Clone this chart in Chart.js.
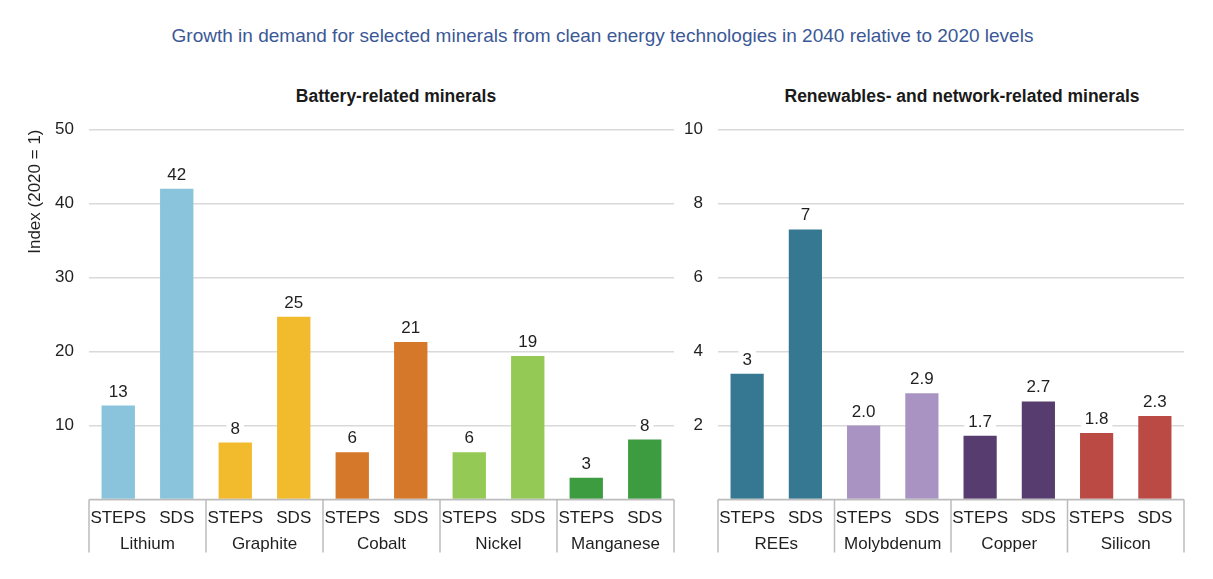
<!DOCTYPE html>
<html>
<head>
<meta charset="utf-8">
<title>Growth in demand for selected minerals</title>
<script src="https://cdn.jsdelivr.net/npm/chart.js@4.4.1/dist/chart.umd.min.js"></script>
<style>
  body { margin: 0; background: #fff; font-family: "Liberation Sans", Arial, sans-serif; }
  #wrap { position: relative; width: 1213px; height: 579px; overflow: hidden; }
  .txt { position: absolute; text-align: center; white-space: nowrap; }
  #mainTitle { left: 0; width: 1205px; top: 25px; font-size: 19px; line-height: 22px; color: #3b5896; }
  .sub { top: 85px; width: 400px; font-size: 17.5px; line-height: 22px; font-weight: bold; color: #1a1a1a; }
  #subLeft { left: 196px; }
  #subRight { left: 762px; }
  canvas { position: absolute; top: 0; }
  #batteryChart { left: 0; }
  #renewChart { left: 676px; }
</style>
</head>
<body>
<div id="wrap">
  <div id="mainTitle" class="txt">Growth in demand for selected minerals from clean energy technologies in 2040 relative to 2020 levels</div>
  <div id="subLeft" class="txt sub">Battery-related minerals</div>
  <div id="subRight" class="txt sub">Renewables- and network-related minerals</div>
  <canvas id="batteryChart" width="680" height="579"></canvas>
  <canvas id="renewChart" width="537" height="579"></canvas>
</div>

<script>
// scenarios shown under every bar
const scenarios = ["STEPS", "SDS"];

// battery-related minerals (index 2020 = 1)
const batteryMinerals = ["Lithium", "Graphite", "Cobalt", "Nickel", "Manganese"];
const batterySteps = [12.7, 7.7, 6.4, 6.4, 2.95];
const batterySds = [42.0, 24.7, 21.3, 19.4, 8.1];
const batteryStepsLabels = ["13", "8", "6", "6", "3"];
const batterySdsLabels = ["42", "25", "21", "19", "8"];
const batteryColors = ["#89c3dc", "#f2bb2d", "#d57829", "#93c954", "#3e9c40"];
const batteryTicks = [10, 20, 30, 40, 50];

// renewables- and network-related minerals
const renewMinerals = ["REEs", "Molybdenum", "Copper", "Silicon"];
const renewSteps = [3.4, 2.0, 1.72, 1.8];
const renewSds = [7.3, 2.87, 2.65, 2.26];
const renewStepsLabels = ["3", "2.0", "1.7", "1.8"];
const renewSdsLabels = ["7", "2.9", "2.7", "2.3"];
const renewColors = ["#367891", "#a993c2", "#573d6f", "#bb4a45"];
const renewTicks = [2, 4, 6, 8, 10];

const fontFamily = "'Liberation Sans', Arial, sans-serif";
const textColor = "#1f1f1f";
const lineColor = "#bcbcbc";

// interleave STEPS / SDS so every bar gets its own slot
function interleave(a, b) {
  let out = [];
  for (let i = 0; i < a.length; i++) {
    out.push(a[i]);
    out.push(b[i]);
  }
  return out;
}

function doubled(colors) {
  return interleave(colors, colors);
}

// value labels on top of the bars, with a white box so grid lines break
const valueLabels = {
  id: "valueLabels",
  afterDatasetsDraw(chart) {
    const ctx = chart.ctx;
    const texts = chart.options.plugins.valueLabels.texts;
    const meta = chart.getDatasetMeta(0);
    ctx.save();
    ctx.font = "17px " + fontFamily;
    ctx.textAlign = "center";
    ctx.textBaseline = "alphabetic";
    meta.data.forEach((bar, i) => {
      const y = bar.y - 9;
      const w = ctx.measureText(texts[i]).width + 8;
      ctx.fillStyle = "#ffffff";
      ctx.fillRect(bar.x - w / 2, y - 15, w, 19);
      ctx.fillStyle = textColor;
      ctx.fillText(texts[i], bar.x, y);
    });
    ctx.restore();
  },
};

// base line and the vertical group separators under the x axis
const groupSeparators = {
  id: "groupSeparators",
  afterDraw(chart) {
    const ctx = chart.ctx;
    const area = chart.chartArea;
    const x = chart.scales.x;
    const groups = chart.data.labels.length / 2;
    let cuts = [area.left];
    for (let i = 1; i < groups; i++) {
      cuts.push((x.getPixelForValue(2 * i - 1) + x.getPixelForValue(2 * i)) / 2);
    }
    cuts.push(area.right);
    ctx.save();
    ctx.strokeStyle = lineColor;
    ctx.lineWidth = 1.5;
    ctx.beginPath();
    ctx.moveTo(area.left, area.bottom);
    ctx.lineTo(area.right, area.bottom);
    cuts.forEach((c) => {
      ctx.moveTo(c, area.bottom);
      ctx.lineTo(c, area.bottom + 53);
    });
    ctx.stroke();
    ctx.restore();
  },
};

function makeChart(canvasId, minerals, steps, sds, stepsLabels, sdsLabels, colors, ticks, opts) {
  const labels = [];
  minerals.forEach(() => labels.push(scenarios[0], scenarios[1]));
  const tickFont = { family: fontFamily, size: 17 };

  return new Chart(document.getElementById(canvasId), {
    type: "bar",
    data: {
      labels: labels,
      datasets: [
        {
          data: interleave(steps, sds),
          backgroundColor: doubled(colors),
          borderWidth: 0,
          barPercentage: 0.57,
          categoryPercentage: 1,
        },
      ],
    },
    options: {
      responsive: false,
      animation: false,
      layout: {
        padding: { top: 129.5, right: opts.padRight, bottom: 26.5, left: 0 },
      },
      plugins: {
        legend: { display: false },
        tooltip: { enabled: false },
        valueLabels: { texts: interleave(stepsLabels, sdsLabels) },
      },
      scales: {
        x: {
          weight: 0,
          grid: { display: false },
          border: { display: false },
          ticks: { font: tickFont, color: textColor, padding: 1, maxRotation: 0, autoSkip: false },
          afterFit(scale) { scale.height = 26; },
        },
        x2: {
          type: "category",
          labels: minerals,
          position: "bottom",
          weight: 1,
          offset: true,
          grid: { display: false },
          border: { display: false },
          ticks: { font: tickFont, color: textColor, padding: 1, maxRotation: 0, autoSkip: false },
          afterFit(scale) { scale.height = 27; },
        },
        y: {
          min: 0,
          max: ticks[ticks.length - 1],
          afterBuildTicks(scale) {
            scale.ticks = [0].concat(ticks).map((v) => ({ value: v }));
          },
          grid: { color: "#d9d9d9", lineWidth: 1.5, drawTicks: false },
          border: { display: false },
          ticks: {
            font: tickFont,
            color: textColor,
            padding: 15,
            callback: (v) => (v === 0 ? "" : v),
          },
          title: opts.yTitle
            ? {
                display: true,
                text: opts.yTitle,
                align: "end",
                color: textColor,
                font: { family: fontFamily, size: 17 },
                padding: { top: 25, bottom: 0 },
              }
            : { display: false },
          afterFit(scale) { scale.width = opts.yWidth; },
        },
      },
    },
    plugins: [valueLabels, groupSeparators],
  });
}

makeChart("batteryChart", batteryMinerals, batterySteps, batterySds,
  batteryStepsLabels, batterySdsLabels, batteryColors, batteryTicks,
  { padRight: 6, yWidth: 89, yTitle: "Index (2020 = 1)" });

makeChart("renewChart", renewMinerals, renewSteps, renewSds,
  renewStepsLabels, renewSdsLabels, renewColors, renewTicks,
  { padRight: 29, yWidth: 42 });
</script>
</body>
</html>
